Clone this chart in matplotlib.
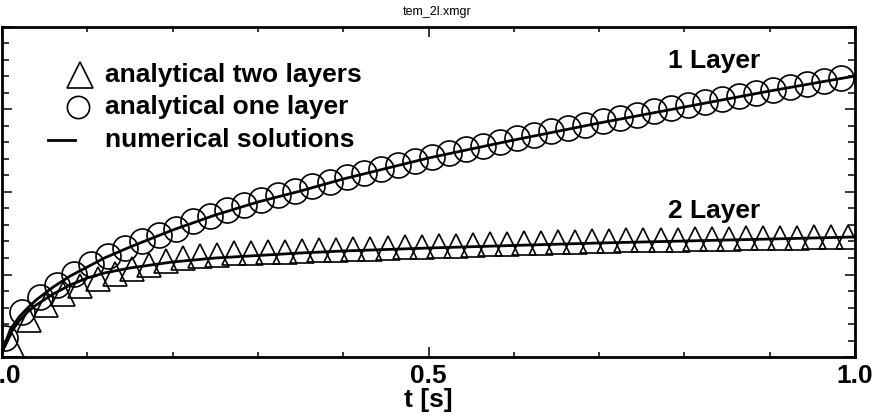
import numpy as np
import matplotlib.pyplot as plt
from matplotlib.ticker import MultipleLocator

plt.rcParams['font.family'] = ['Liberation Sans', 'DejaVu Sans']

# analytical one layer (circles)
t_one = np.linspace(0.004, 0.984, 50)
u_one = [2.30, 5.45, 7.27, 8.73, 10.06, 11.27, 12.24, 13.21, 14.06, 14.79,
         15.52, 16.48, 17.15, 17.79, 18.41, 19.02, 19.60, 20.17, 20.73, 21.26,
         21.78, 22.30, 22.80, 23.30, 23.78, 24.25, 24.72, 25.18, 25.62, 26.07,
         26.50, 26.93, 27.36, 27.77, 28.18, 28.58, 28.98, 29.38, 29.77, 30.16,
         30.53, 30.91, 31.28, 31.65, 32.02, 32.38, 32.74, 33.09, 33.44, 33.78]

# analytical two layers (triangles)
t_two = np.linspace(0.012, 0.992, 50)
u_two = [1.45, 4.48, 6.30, 7.64, 8.61, 9.45, 10.06, 10.67, 11.15, 11.58,
         11.94, 12.24, 12.42, 12.55, 12.63, 12.70, 12.78, 12.85, 12.92, 12.99,
         13.07, 13.14, 13.21, 13.28, 13.36, 13.43, 13.50, 13.58, 13.64, 13.70,
         13.77, 13.84, 13.92, 13.99, 14.06, 14.10, 14.13, 14.17, 14.21, 14.24,
         14.28, 14.32, 14.35, 14.38, 14.41, 14.45, 14.47, 14.50, 14.52, 14.55]

# numerical solutions
t_num = [0.0, 0.01, 0.02, 0.03, 0.04, 0.06, 0.08, 0.1, 0.12, 0.15, 0.2,
         0.25, 0.3, 0.35, 0.4, 0.5, 0.6, 0.7, 0.8, 0.9, 1.0]
num_one = [0.61, 3.39, 4.85, 5.94, 6.91, 8.48, 9.82, 10.91, 12.00, 13.33, 15.39,
           17.21, 18.79, 20.12, 21.58, 24.12, 26.30, 28.36, 30.30, 32.24, 34.06]
num_two = [0.61, 2.91, 4.36, 5.45, 6.30, 7.64, 8.73, 9.58, 10.18, 10.79, 11.52,
           12.00, 12.30, 12.61, 12.85, 13.21, 13.52, 13.82, 14.06, 14.30, 14.55]

fig = plt.figure(figsize=(8.75, 4.19), dpi=100, facecolor='white')
ax = fig.add_axes([2 / 875, 62 / 419, 853 / 875, 330 / 419])

lw = 2.0
ax.plot(t_num, num_one, color='black', lw=lw, zorder=3)
ax.plot(t_num, num_two, color='black', lw=lw, zorder=3)
ax.plot(t_one, u_one, ls='none', marker='o', ms=18, mfc='none', mec='black',
        mew=1.2, zorder=2)
ax.plot(t_two, u_two, ls='none', marker='^', ms=17, mfc='none', mec='black',
        mew=1.2, zorder=2)

ax.set_xlim(0, 1)
ax.set_ylim(0, 40)
ax.xaxis.set_major_locator(MultipleLocator(0.5))
ax.xaxis.set_minor_locator(MultipleLocator(0.1))
ax.yaxis.set_major_locator(MultipleLocator(10))
ax.yaxis.set_minor_locator(MultipleLocator(2))
ax.xaxis.set_major_formatter(lambda v, p: f'{v:.1f}')
ax.tick_params(which='both', direction='in', top=True, right=True, width=1.1,
               labelleft=False)
ax.tick_params(which='major', length=7, pad=5, labelsize=19)
ax.tick_params(axis='x', which='minor', length=3.5)
ax.tick_params(axis='y', which='minor', length=5)
for sp in ax.spines.values():
    sp.set_linewidth(2.0)

fs = 19
ax.set_xlabel('t [s]', fontsize=fs, fontweight='bold', labelpad=0)
fig.text(0.5, 1 - 12 / 419, 'tem_2l.xmgr', ha='center', va='center', fontsize=9)

# legend, drawn in axes coordinates
tr = ax.transAxes
ax.plot([0.0914], [0.8545], marker='^', ms=19, mfc='none', mec='black', mew=1.2,
        transform=tr, clip_on=False)
ax.plot([0.089], [0.7576], marker='o', ms=16, mfc='none', mec='black', mew=1.2,
        transform=tr, clip_on=False)
ax.plot([0.054, 0.086], [0.6576, 0.6576], color='black', lw=lw, transform=tr)
ax.text(0.1207, 0.8545, 'analytical two layers', transform=tr, fontsize=fs,
        fontweight='bold', va='center')
ax.text(0.1207, 0.7576, 'analytical one layer', transform=tr, fontsize=fs,
        fontweight='bold', va='center')
ax.text(0.1207, 0.6576, 'numerical solutions', transform=tr, fontsize=fs,
        fontweight='bold', va='center')

ax.text(0.781, 0.897, '1 Layer', transform=tr, fontsize=fs, fontweight='bold',
        va='center')
ax.text(0.781, 0.4424, '2 Layer', transform=tr, fontsize=fs, fontweight='bold',
        va='center')

for lab in ax.get_xticklabels():
    lab.set_fontweight('bold')

fig.savefig('out.png', dpi=100)
